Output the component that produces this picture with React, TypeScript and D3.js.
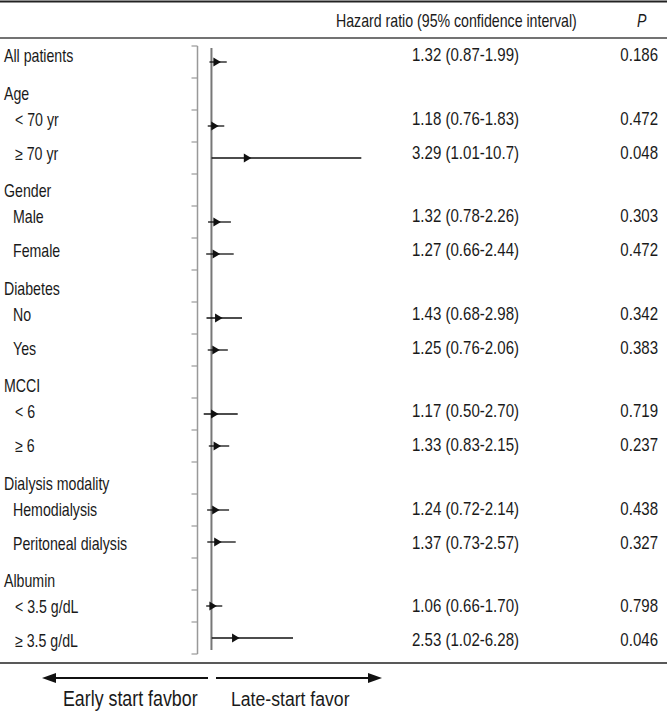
import React from "react";
import * as d3 from "d3";

const labels = [
  "All patients", "Age", "< 70 yr", "≥ 70 yr", "Gender", "Male", "Female",
  "Diabetes", "No", "Yes", "MCCI", "< 6", "≥ 6", "Dialysis modality",
  "Hemodialysis", "Peritoneal dialysis", "Albumin", "< 3.5 g/dL", "≥ 3.5 g/dL",
];
const levels = [0, 0, 1, 1, 0, 1, 1, 0, 1, 1, 0, 1, 1, 0, 1, 1, 0, 1, 1];
const hr: (number | null)[] = [1.32, null, 1.18, 3.29, null, 1.32, 1.27, null, 1.43, 1.25, null, 1.17, 1.33, null, 1.24, 1.37, null, 1.06, 2.53];
const lo: (number | null)[] = [0.87, null, 0.76, 1.01, null, 0.78, 0.66, null, 0.68, 0.76, null, 0.50, 0.83, null, 0.72, 0.73, null, 0.66, 1.02];
const hi: (number | null)[] = [1.99, null, 1.83, 10.7, null, 2.26, 2.44, null, 2.98, 2.06, null, 2.70, 2.15, null, 2.14, 2.57, null, 1.70, 6.28];
const hrText = [
  "1.32 (0.87-1.99)", "", "1.18 (0.76-1.83)", "3.29 (1.01-10.7)", "", "1.32 (0.78-2.26)", "1.27 (0.66-2.44)",
  "", "1.43 (0.68-2.98)", "1.25 (0.76-2.06)", "", "1.17 (0.50-2.70)", "1.33 (0.83-2.15)", "",
  "1.24 (0.72-2.14)", "1.37 (0.73-2.57)", "", "1.06 (0.66-1.70)", "2.53 (1.02-6.28)",
];
const pText = ["0.186", "", "0.472", "0.048", "", "0.303", "0.472", "", "0.342", "0.383", "", "0.719", "0.237", "", "0.438", "0.327", "", "0.798", "0.046"];
const headerHR = "Hazard ratio (95% confidence interval)";
const headerP = "P";
const leftArrowLabel = "Early start favbor";
const rightArrowLabel = "Late-start favor";

const W = 667;
const H = 711;
const FONT = "'Liberation Sans', Arial, sans-serif";
const FS = 17.5;
const SX = 0.81;
const SXN = 0.86;

function isHeaderRow(i: number) {
  return hr[i] === null;
}

// text layout for the label column (grouped spacing)
const textY: number[] = [];
labels.forEach((_, i) => {
  if (i === 0) { textY.push(62); return; }
  const prev = textY[i - 1];
  if (isHeaderRow(i)) textY.push(prev + 37.5);
  else if (isHeaderRow(i - 1)) textY.push(prev + 26);
  else textY.push(prev + 34);
});

export default function App() {
  const x = d3.scaleLinear().domain([0, 10]).range([196, 350.5]);
  const y = d3.scaleLinear().domain([0, labels.length - 1]).range([62, 638]);
  const step = y(1) - y(0);
  const axisX = 197.5;
  const tickIdx = d3.range(labels.length + 1);

  const T = (props: { x: number; y: number; sx?: number; size?: number; anchor?: string; italic?: boolean; children: React.ReactNode }) => (
    <text
      transform={`translate(${props.x},${props.y}) scale(${props.sx ?? SX},1)`}
      fontFamily={FONT}
      fontSize={props.size ?? FS}
      textAnchor={props.anchor ?? "start"}
      fontStyle={props.italic ? "italic" : "normal"}
      fill="#1a1a1a"
    >
      {props.children}
    </text>
  );

  return (
    <svg width={W} height={H} style={{ position: "absolute", left: 0, top: 0, background: "#fff" }}>
      <rect x={0} y={0} width={W} height={H} fill="#fff" />
      {/* frame lines */}
      <line x1={0} x2={W} y1={1.5} y2={1.5} stroke="#222" strokeWidth={2} />
      <line x1={0} x2={W} y1={38} y2={38} stroke="#444" strokeWidth={1.5} />
      <line x1={0} x2={W} y1={663} y2={663} stroke="#222" strokeWidth={1.5} />

      <T x={336} y={27}>{headerHR}</T>
      <T x={637} y={27} italic>{headerP}</T>

      {/* left axis */}
      <line x1={axisX} x2={axisX} y1={y(0) - step / 2} y2={y(labels.length - 1) + step / 2} stroke="#999" strokeWidth={1.5} />
      {tickIdx.map((k) => {
        const ty = y(0) - step / 2 + k * step;
        return <line key={k} x1={axisX - 6} x2={axisX} y1={ty} y2={ty} stroke="#999" strokeWidth={1.2} />;
      })}

      {/* reference line HR = 1 */}
      <line x1={x(1)} x2={x(1)} y1={y(0) - 14} y2={y(labels.length - 1) + 12} stroke="#777" strokeWidth={2} />

      {/* CI lines and markers */}
      {labels.map((_, i) => {
        const h = hr[i], l = lo[i], u = hi[i];
        if (h === null || l === null || u === null) return null;
        const cy = y(i);
        const cx = x(h);
        const tri = `M${cx - 3},${cy - 4.5} L${cx + 4.5},${cy} L${cx - 3},${cy + 4.5} Z`;
        return (
          <g key={i}>
            <line x1={x(l)} x2={x(u)} y1={cy} y2={cy} stroke="#111" strokeWidth={1.3} />
            <path d={tri} fill="#111" />
          </g>
        );
      })}

      {/* labels */}
      {labels.map((lab, i) => (
        <T key={i} x={levels[i] === 0 ? 4 : (lab.startsWith("<") || lab.startsWith("≥") ? 15 : 13)} y={textY[i]}>{lab}</T>
      ))}
      {hrText.map((t, i) => t ? <T key={i} x={412} y={textY[i] - 1} sx={SXN}>{t}</T> : null)}
      {pText.map((t, i) => t ? <T key={i} x={658} y={textY[i] - 1} sx={SXN} anchor="end">{t}</T> : null)}

      {/* bottom arrows */}
      <line x1={54} x2={208} y1={678} y2={678} stroke="#111" strokeWidth={2} />
      <path d={`M42,678 L56,673 L56,683 Z`} fill="#111" />
      <line x1={216} x2={370} y1={678} y2={678} stroke="#111" strokeWidth={2} />
      <path d={`M382,678 L368,673 L368,683 Z`} fill="#111" />
      <T x={63} y={706} size={22}>{leftArrowLabel}</T>
      <T x={231} y={706} size={21} sx={0.84}>{rightArrowLabel}</T>
    </svg>
  );
}
